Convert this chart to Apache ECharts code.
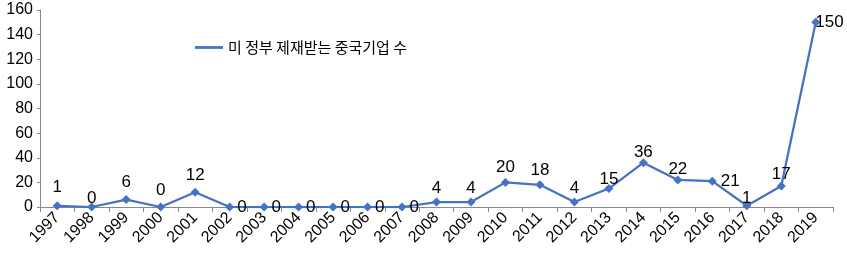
<!DOCTYPE html>
<html><head><meta charset="utf-8">
<script src="https://cdn.jsdelivr.net/npm/echarts@6/dist/echarts.min.js"></script>
<style>html,body{margin:0;padding:0;background:#fff}#c{width:847px;height:259px}</style>
</head><body><div id="c"></div>
<script>
const years = ['1997','1998','1999','2000','2001','2002','2003','2004','2005','2006','2007','2008','2009','2010','2011','2012','2013','2014','2015','2016','2017','2018','2019'];
const values = [1,0,6,0,12,0,0,0,0,0,0,4,4,20,18,4,15,36,22,21,1,17,150];
const seriesName = '미 정부 제재받는 중국기업 수';
const yTicks = {min:0, max:160, interval:20};

// label placement per year (style only)
const labelPlace = {
  '1997':{position:'top',distance:5},
  '1998':{position:'top',distance:-4},
  '1999':{position:'top',distance:4},
  '2000':{position:'top',distance:4},
  '2001':{position:'top',distance:4},
  '2002':{position:'right',distance:3},
  '2003':{position:'right',distance:3},
  '2004':{position:'right',distance:3},
  '2005':{position:'right',distance:3},
  '2006':{position:'right',distance:3},
  '2007':{position:'right',distance:3},
  '2008':{position:'top',distance:1},
  '2009':{position:'top',distance:1},
  '2010':{position:'top',distance:2},
  '2011':{position:'top',distance:2},
  '2012':{position:'top',distance:1},
  '2013':{position:'top',distance:-4},
  '2014':{position:'top',distance:-3},
  '2015':{position:'top',distance:-2,offset:[5,0]},
  '2016':{position:'right',distance:4},
  '2017':{position:'top',distance:-6},
  '2018':{position:'top',distance:-1,offset:[-9,0]},
  '2019':{position:'right',distance:-5,offset:[0,-6]}
};

const data = values.map((v,i)=>({value:v, label:Object.assign({show:true}, labelPlace[years[i]])}));

const chart = echarts.init(document.getElementById('c'));
chart.setOption({
  animation:false,
  textStyle:{fontFamily:'Liberation Sans, Arial, sans-serif'},
  legend:{
    left:190, top:35, itemWidth:28, itemHeight:10, itemGap:4,
    textStyle:{fontFamily:'"Noto Sans CJK KR", sans-serif', fontSize:15, color:'#000'},
    data:[{name:seriesName, icon:'path://M0,4.5 L10,4.5 L10,5.5 L0,5.5 Z'}]
  },
  grid:{left:40, right:14, top:10, bottom:52},
  xAxis:{
    type:'category', data:years, boundaryGap:true,
    axisLine:{lineStyle:{color:'#888', width:1}},
    axisTick:{show:true, length:5, lineStyle:{color:'#888'}},
    axisLabel:{rotate:45, fontSize:16, color:'#000', margin:8, interval:0, fontFamily:'Liberation Sans, Arial, sans-serif'}
  },
  yAxis:{
    type:'value', min:yTicks.min, max:yTicks.max, interval:yTicks.interval,
    splitLine:{show:false},
    axisLine:{show:true, lineStyle:{color:'#888', width:1}},
    axisTick:{show:true, length:3, lineStyle:{color:'#888'}},
    axisLabel:{fontSize:16, color:'#000', margin:7, fontFamily:'Liberation Sans, Arial, sans-serif'}
  },
  series:[{
    name:seriesName, type:'line', data:data,
    symbol:'diamond', symbolSize:9, showAllSymbol:true,
    itemStyle:{color:'#4472C4'},
    lineStyle:{color:'#4472C4', width:2.25},
    label:{show:true, fontSize:17, color:'#000', fontFamily:'Liberation Sans, Arial, sans-serif'},
    labelLayout:{hideOverlap:false}
  }]
});
</script></body></html>
